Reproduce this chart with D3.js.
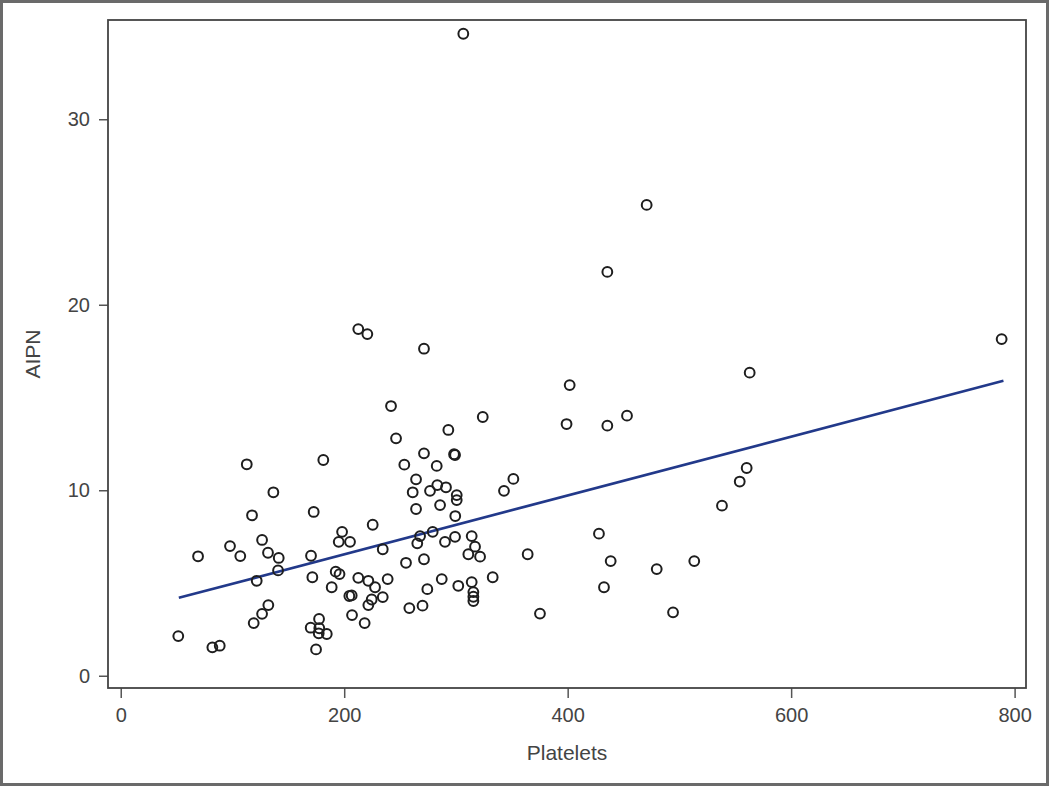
<!DOCTYPE html>
<meta charset="utf-8">
<head>
  <title>AIPN vs Platelets</title>
</head>

<style>
body { margin: 0; background: #fff; }
text {
  font-family: "Liberation Sans", Arial, sans-serif;
  fill: #444;
}
.tick text { font-size: 20px; }
.tick line { stroke: #555; stroke-width: 1.5; }
.axis-title { font-size: 21px; }
.pt { fill: none; stroke: #1e1e1e; stroke-width: 2; }
</style>

<body>
  <svg width="1050" height="787"></svg>

  <script src="https://d3js.org/d3.v7.min.js"></script>
  <script>
var platelets = [
  112.8, 181.3, 136.6, 212.6, 220.7, 271.4, 241.9, 324.0, 293.2, 246.4,
  271.4, 298.3, 299.2, 253.8, 282.8, 264.3, 351.4, 283.3, 291.1, 261.3,
  276.8, 343.0, 300.7, 300.7, 117.5, 172.7, 69.2, 97.8, 107.0, 126.5,
  131.8, 141.4, 140.8, 121.7, 170.3, 198.1, 195.1, 192.4, 195.8, 171.5,
  188.8, 204.6, 206.7, 132.1, 126.5, 119.0, 51.5, 82.0, 88.6, 177.5,
  170.0, 177.7, 177.2, 184.4, 174.8, 207.0, 264.3, 285.8, 299.4, 225.5,
  205.2, 267.9, 279.2, 265.4, 290.2, 299.2, 314.1, 317.1, 311.1, 321.6,
  234.5, 255.3, 271.4, 364.2, 212.6, 221.6, 227.6, 238.9, 287.3, 274.4,
  302.1, 314.1, 332.9, 315.6, 315.6, 315.6, 234.5, 224.6, 221.6, 218.3,
  258.3, 270.1, 375.2, 401.8, 399.0, 435.5, 453.1, 562.9, 560.2, 554.0,
  538.1, 428.0, 438.5, 479.7, 513.3, 432.5, 494.3, 788.4, 306.6, 470.7,
  435.5
];
var aipn = [
  11.40, 11.63, 9.89, 18.69, 18.42, 17.63, 14.54, 13.95, 13.25, 12.80,
  11.99, 11.94, 11.90, 11.38, 11.31, 10.59, 10.61, 10.28, 10.16, 9.89,
  9.97, 9.97, 9.74, 9.47, 8.65, 8.83, 6.44, 6.99, 6.45, 7.32,
  6.63, 6.35, 5.68, 5.12, 6.47, 7.76, 7.22, 5.61, 5.48, 5.31,
  4.77, 4.30, 4.33, 3.81, 3.34, 2.84, 2.14, 1.53, 1.62, 3.06,
  2.59, 2.56, 2.29, 2.25, 1.42, 3.27, 8.99, 9.20, 8.61, 8.14,
  7.22, 7.53, 7.76, 7.14, 7.22, 7.49, 7.53, 6.96, 6.55, 6.42,
  6.82, 6.09, 6.28, 6.55, 5.28, 5.12, 4.77, 5.21, 5.21, 4.67,
  4.85, 5.05, 5.31, 4.51, 4.26, 4.03, 4.24, 4.11, 3.81, 2.84,
  3.65, 3.78, 3.35, 15.67, 13.57, 13.48, 14.02, 16.34, 11.20, 10.47,
  9.17, 7.66, 6.18, 5.75, 6.18, 4.77, 3.42, 18.15, 34.61, 25.38,
  21.77
];

// fitted line end points
var fitX = [52, 790];
var fitY = [4.2, 15.9];

var xTicks = [0, 200, 400, 600, 800];
var yTicks = [0, 10, 20, 30];

var plotLeft = 108, plotRight = 1026, plotTop = 20, plotBottom = 688;

var x = d3.scaleLinear().domain([-11.4, 810.2]).range([plotLeft, plotRight]);
var y = d3.scaleLinear().domain([-0.66, 35.35]).range([plotBottom, plotTop]);

var svg = d3.select('svg');

// outer border
svg.append('rect')
  .attr('x', 1.5).attr('y', 1.5)
  .attr('width', 1046).attr('height', 783)
  .attr('fill', 'none')
  .attr('stroke', '#6a6a6a')
  .attr('stroke-width', 3);

// axes
var xAxis = svg.append('g')
  .attr('transform', 'translate(0,' + plotBottom + ')')
  .call(d3.axisBottom(x).tickValues(xTicks).tickSize(10).tickPadding(10));
xAxis.select('.domain').remove();

var yAxis = svg.append('g')
  .attr('transform', 'translate(' + plotLeft + ',0)')
  .call(d3.axisLeft(y).tickValues(yTicks).tickSize(9).tickPadding(9));
yAxis.select('.domain').remove();

// plot frame
svg.append('rect')
  .attr('x', plotLeft).attr('y', plotTop)
  .attr('width', plotRight - plotLeft).attr('height', plotBottom - plotTop)
  .attr('fill', 'none')
  .attr('stroke', '#444')
  .attr('stroke-width', 1.8);

// regression line
svg.append('line')
  .attr('x1', x(fitX[0])).attr('y1', y(fitY[0]))
  .attr('x2', x(fitX[1])).attr('y2', y(fitY[1]))
  .attr('stroke', '#22398a')
  .attr('stroke-width', 2.6);

// points
svg.append('g')
  .selectAll('circle')
  .data(platelets)
  .enter()
  .append('circle')
  .attr('class', 'pt')
  .attr('cx', function(d) { return x(d); })
  .attr('cy', function(d, i) { return y(aipn[i]); })
  .attr('r', 4.9);

// axis titles
svg.append('text')
  .attr('class', 'axis-title')
  .attr('x', (plotLeft + plotRight) / 2)
  .attr('y', 760)
  .attr('text-anchor', 'middle')
  .text('Platelets');

svg.append('text')
  .attr('class', 'axis-title')
  .attr('transform', 'translate(40,' + (plotTop + plotBottom) / 2 + ') rotate(-90)')
  .attr('text-anchor', 'middle')
  .text('AIPN');
  </script>
</body>
</html>
